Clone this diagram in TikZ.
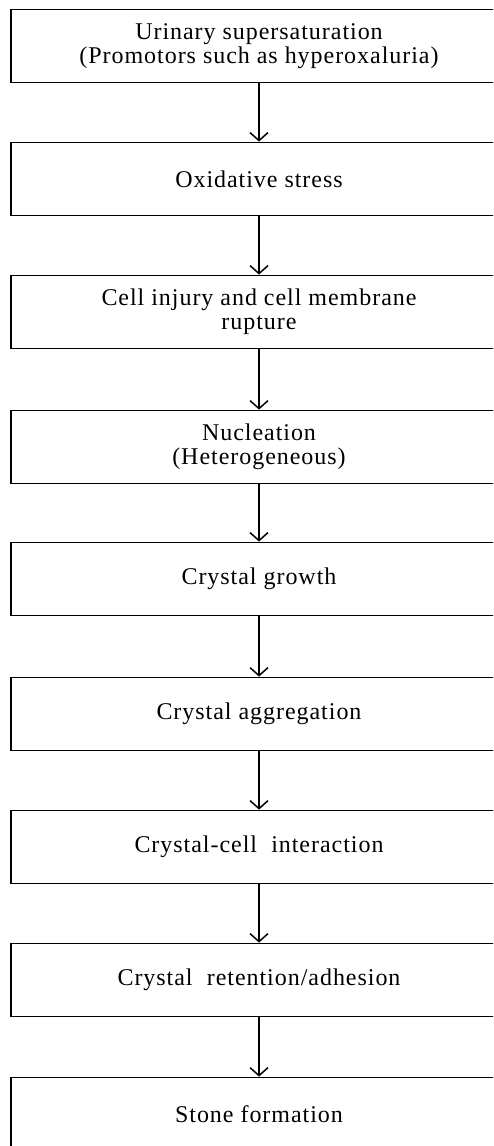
\documentclass[tikz,border=0pt]{standalone}
\usepackage{fontspec}
\setmainfont[LetterSpace=4]{Liberation Serif}
\usetikzlibrary{arrows.meta}
\begin{document}
\begin{tikzpicture}[x=1pt,y=1pt,
  stagebox/.style={draw=black, line width=1.8pt, minimum width=496pt, minimum height=73pt,
    inner sep=0pt, align=center, font=\fontsize{24}{24}\selectfont},
  flow/.style={line width=1.7pt, -{Straight Barb[length=8pt,width=18pt,line width=1.5pt]}}]
\useasboundingbox (0,0) rectangle (493,-1146);
\clip (0,0) rectangle (493,-1146);
\fill[white] (0,0) rectangle (493,-1146);
\node[stagebox] (b1) at (259,-46) {Urinary supersaturation\\(Promotors such as hyperoxaluria)};
\node[stagebox] (b2) at (259,-179) {Oxidative stress};
\node[stagebox] (b3) at (259,-312) {Cell injury and cell membrane\\rupture};
\node[stagebox] (b4) at (259,-447) {Nucleation\\(Heterogeneous)};
\node[stagebox] (b5) at (259,-579) {Crystal growth};
\node[stagebox] (b6) at (259,-714) {Crystal aggregation};
\node[stagebox] (b7) at (259,-847) {Crystal-cell\hspace{0.3em} interaction};
\node[stagebox] (b8) at (259,-980) {Crystal\hspace{0.3em} retention/adhesion};
\node[stagebox] (b9) at (259,-1114) {Stone formation};
\foreach \a/\b in {b1/b2,b2/b3,b3/b4,b4/b5,b5/b6,b6/b7,b7/b8,b8/b9}
  \draw[flow] (\a.south) -- (\b.north);
\end{tikzpicture}
\end{document}
